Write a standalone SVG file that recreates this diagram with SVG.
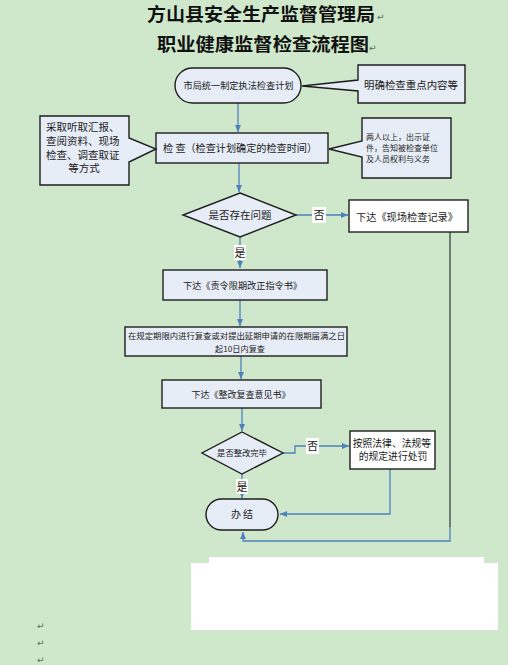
<svg xmlns="http://www.w3.org/2000/svg" width="508" height="665" viewBox="0 0 508 665">
<defs>
<style>
.cjk{font-family:"Noto Sans CJK SC","Noto Sans CJK JP",sans-serif;fill:#1a1a1a}
.title{font-family:"Noto Sans CJK SC",sans-serif;font-weight:bold;font-size:18px;fill:#111}
.shape{fill:#e7edf7;stroke:#1e1e1e;stroke-width:1.4}
.white{fill:#ffffff;stroke:#1e1e1e;stroke-width:1.4}
.con{fill:none;stroke:#4f81bd;stroke-width:1.3}
.dark{fill:none;stroke:#56625a;stroke-width:1.6}
.mark{font-family:"DejaVu Sans",sans-serif;font-size:9px;fill:#55705a}
.lbl{fill:#ffffff}
</style>
<marker id="arr" markerWidth="8" markerHeight="8" refX="7" refY="4" orient="auto" markerUnits="userSpaceOnUse">
<path d="M0,1 L7,4 L0,7 Z" fill="#4f81bd"/>
</marker>
</defs>
<rect width="508" height="665" fill="#cfe7cb"/>

<g id="titles">
<text class="title" x="147" y="21" textLength="228" lengthAdjust="spacingAndGlyphs">方山县安全生产监督管理局</text>
<text class="mark" x="377" y="20">↵</text>
<text class="title" x="157" y="51" textLength="212" lengthAdjust="spacingAndGlyphs">职业健康监督检查流程图</text>
<text class="mark" x="369" y="51">↵</text>
</g>

<g id="connectors">
<line class="con" x1="238" y1="103" x2="238" y2="132" marker-end="url(#arr)"/>
<line class="con" x1="239" y1="163" x2="239" y2="192" marker-end="url(#arr)"/>
<line class="con" x1="296" y1="215" x2="348" y2="215" marker-end="url(#arr)"/>
<line class="con" x1="240" y1="237" x2="240" y2="268" marker-end="url(#arr)"/>
<line class="con" x1="240" y1="300" x2="240" y2="326" marker-end="url(#arr)"/>
<line class="con" x1="241" y1="356" x2="241" y2="379" marker-end="url(#arr)"/>
<line class="con" x1="242" y1="408" x2="242" y2="431" marker-end="url(#arr)"/>
<polyline class="con" points="283,453 295,453 295,446 349,446" marker-end="url(#arr)"/>
<line class="con" x1="242" y1="474" x2="242" y2="498" marker-end="url(#arr)"/>
<polyline class="con" points="390,469 390,514 280,514" marker-end="url(#arr)"/>
<line class="dark" x1="450" y1="232" x2="450" y2="527"/>
<polyline class="con" points="450,527 450,541 243,541 243,532" marker-end="url(#arr)"/>
<rect class="lbl" x="312" y="207" width="14" height="16"/>
<text class="cjk" x="319" y="219" font-size="11" text-anchor="middle">否</text>
<rect class="lbl" x="234" y="245" width="12" height="15"/>
<text class="cjk" x="240" y="257" font-size="11" text-anchor="middle">是</text>
<rect class="lbl" x="306" y="438" width="13" height="16"/>
<text class="cjk" x="312.5" y="450" font-size="11" text-anchor="middle">否</text>
<rect class="lbl" x="236" y="479" width="12" height="15"/>
<text class="cjk" x="242" y="491" font-size="11" text-anchor="middle">是</text>
</g>

<g id="plan">
<rect class="shape" x="175" y="68" width="126" height="35" rx="17.5"/>
<text class="cjk" x="238.5" y="88.5" font-size="9" text-anchor="middle" textLength="110" lengthAdjust="spacingAndGlyphs">市局统一制定执法检查计划</text>
</g>

<g id="focus-note">
<path class="shape" d="M358,65 H465 V103 H358 V91 L302,86 L358,80 Z"/>
<text class="cjk" x="411" y="89" font-size="10.5" text-anchor="middle" textLength="94" lengthAdjust="spacingAndGlyphs">明确检查重点内容等</text>
</g>

<g id="inspect">
<rect class="shape" x="156" y="133" width="172" height="30"/>
<text class="cjk" x="163" y="152" font-size="10.5" textLength="154" lengthAdjust="spacingAndGlyphs">检 查（检查计划确定的检查时间）</text>
</g>

<g id="method-note">
<path class="shape" d="M40,116 H129 V138 L156,149 L129,162 V185 H40 Z"/>
<text class="cjk" font-size="10.5" text-anchor="middle">
<tspan x="84" y="131">采取听取汇报、</tspan>
<tspan x="84" y="145">查阅资料、现场</tspan>
<tspan x="84" y="158.5">检查、调查取证</tspan>
<tspan x="84" y="172">等方式</tspan>
</text>
</g>

<g id="people-note">
<path class="shape" d="M362,118 H451 V178 H362 V157 L329,149 L362,141 Z"/>
<text class="cjk" font-size="8">
<tspan x="366" y="140">两人以上，出示证</tspan>
<tspan x="366" y="151">件，告知被检查单位</tspan>
<tspan x="366" y="162">及人员权利与义务</tspan>
</text>
</g>

<g id="problem">
<polygon class="shape" points="240,193 296,215 240,237 183,215"/>
<text class="cjk" x="240" y="219" font-size="10.5" text-anchor="middle">是否存在问题</text>
</g>

<g id="record">
<rect class="white" x="349" y="200" width="119" height="32"/>
<text class="cjk" x="356" y="220.5" font-size="10.2" textLength="102" lengthAdjust="spacingAndGlyphs">下达《现场检查记录》</text>
</g>

<g id="order">
<rect class="shape" x="163" y="270" width="164" height="30"/>
<text class="cjk" x="242.5" y="288.5" font-size="9.2" text-anchor="middle" textLength="119" lengthAdjust="spacingAndGlyphs">下达《责令限期改正指令书》</text>
</g>

<g id="recheck">
<rect class="shape" x="125" y="327" width="222" height="29"/>
<text class="cjk" x="128" y="338.5" font-size="8.2" textLength="217" lengthAdjust="spacingAndGlyphs">在规定期限内进行复查或对提出延期申请的在限期届满之日</text>
<text class="cjk" x="240" y="351.5" font-size="8.2" text-anchor="middle">起10日内复查</text>
</g>

<g id="opinion">
<rect class="shape" x="162" y="380" width="159" height="28"/>
<text class="cjk" x="241" y="397.5" font-size="9" text-anchor="middle" textLength="99" lengthAdjust="spacingAndGlyphs">下达《整改复查意见书》</text>
</g>

<g id="done-check">
<polygon class="shape" points="242,432 283,453 242,474 202,453"/>
<text class="cjk" x="242" y="456" font-size="8.3" text-anchor="middle">是否整改完毕</text>
</g>

<g id="penalty">
<rect class="white" x="350" y="431" width="85" height="38"/>
<text class="cjk" font-size="9.8" text-anchor="middle">
<tspan x="393" y="446.5">按照法律、法规等</tspan>
<tspan x="393" y="460">的规定进行处罚</tspan>
</text>
</g>

<g id="finish">
<rect class="shape" x="206" y="499" width="72" height="31" rx="15.5"/>
<text class="cjk" x="242" y="518" font-size="10" text-anchor="middle">办 结</text>
</g>

<g id="blank-area">
<polygon points="209,557 484,557 484,563 498,563 498,630 191,630 191,563 209,563" fill="#ffffff"/>
</g>

<g id="para-marks">
<text class="mark" x="37" y="629">↵</text>
<text class="mark" x="37" y="646">↵</text>
<text class="mark" x="37" y="663">↵</text>
</g>
</svg>
